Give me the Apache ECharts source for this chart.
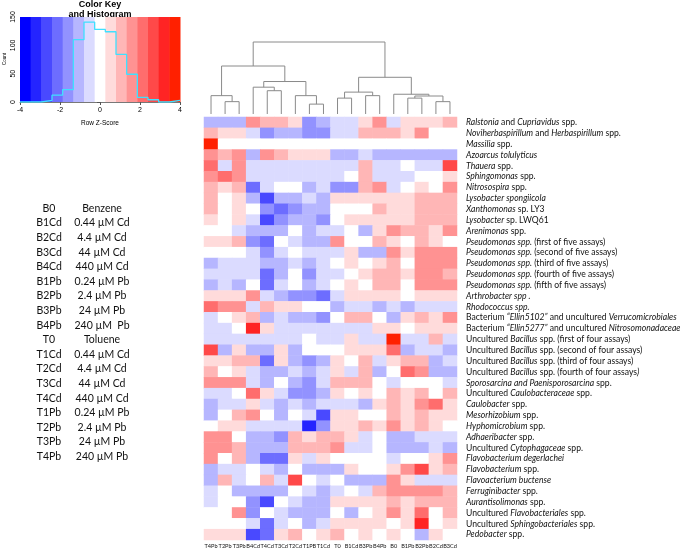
<!DOCTYPE html>
<html><head><meta charset="utf-8">
<script src="https://cdn.jsdelivr.net/npm/echarts@6/dist/echarts.min.js"></script>
<style>html,body{margin:0;padding:0;background:#fff}#c{width:685px;height:554px}</style>
</head><body><div id="c"></div>
<script>
// ---- data ----
const columns = ['T4Pb','T2Pb','T3Pb','B4Cd','T4Cd','T3Cd','T2Cd','T1PB','T1Cd','T0','B1Cd','B3Pb','B4Pb','B0','B1Pb','B2Pb','B2Cd','B3Cd'];
const rowLabels = [
 '*Ralstonia* and *Cupriavidus* spp.',
 '*Noviherbaspirillum* and *Herbaspirillum* spp.',
 '*Massilia* spp.',
 '*Azoarcus tolulyticus*',
 '*Thauera* spp.',
 '*Sphingomonas* spp.',
 '*Nitrosospira* spp.',
 '*Lysobacter spongiicola*',
 '*Xanthomonas* sp. LY3',
 '*Lysobacter* sp. LWQ61',
 '*Arenimonas* spp.',
 '*Pseudomonas spp.* (first of five assays)',
 '*Pseudomonas spp.* (second of five assays)',
 '*Pseudomonas spp.* (third of five assays)',
 '*Pseudomonas spp.* (fourth of five assays)',
 '*Pseudomonas spp.* (fifth of five assays)',
 '*Arthrobacter spp .*',
 '*Rhodococcus spp.*',
 'Bacterium *\u201cEllin5102\u201d* and uncultured *Verrucomicrobiales*',
 'Bacterium *\u201cEllin5277\u201d* and uncultured *Nitrosomonadaceae*',
 'Uncultured *Bacillus* spp. (first of four assays)',
 'Uncultured *Bacillus* spp. (second of four assays)',
 'Uncultured *Bacillus* spp. (third of four assays)',
 'Uncultured *Bacillus* spp. (fourth of four assays*)*',
 '*Sporosarcina and Paenisporosarcina* spp.',
 'Uncultured *Caulobacteraceae* spp.',
 '*Caulobacter* spp.',
 '*Mesorhizobium* spp.',
 '*Hyphomicrobium* spp.',
 '*Adhaeribacter* spp.',
 'Uncultured *Cytophagaceae* spp.',
 '*Flavobacterium degerlachei*',
 '*Flavobacterium* spp.',
 '*Flavoacterium buctense*',
 '*Ferruginibacter* spp.',
 '*Aurantisolimonas* spp.',
 'Uncultured *Flavobacteriales* spp.',
 'Uncultured *Sphingobacteriales* spp.',
 '*Pedobacter* spp.'
];
// row z-scores (one array per row, columns in the order above)
const zRows = [
 [-1,-1,-1,1.6,1,1,0.5,-1.6,-1,-0.5,-0.5,0.5,1.6,-0.5,0.5,0.5,0.5,1],
 [1,0.5,0.5,-0.5,-1.6,-1,-1,-1.6,-1.6,-0.5,-0.5,1,1,1,0.5,1.6,0,0],
 [3.8,-0.2,-0.2,-0.2,-0.2,-0.2,-0.2,-0.2,-0.2,-0.2,-0.2,-0.2,-0.2,-0.2,-0.2,-0.2,-0.2,-0.2],
 [1.6,1,1.6,-1,1.6,1,0.5,0.5,0.5,-1,-1,-0.5,-1,-1,-1,-1,-1,-1],
 [2.1,-0.5,1.6,-0.5,-0.5,-0.5,-0.5,-0.5,-0.5,-0.5,-0.5,1,-0.5,-0.5,0,-0.5,-0.5,2.7],
 [1.6,2.1,1.6,-0.5,-0.5,-0.5,-0.5,-0.5,-0.5,-0.5,0,1,-0.5,-0.5,-0.5,0,0,0.5],
 [1,0.5,1,-2.1,-0.5,0,0,-1,-0.5,-1.6,-1.6,1,1.6,-0.5,0,0.5,0,1.6],
 [1,0,0.5,-1,-2.7,-1,-1,-0.5,-1,0.5,0.5,0.5,0.5,0.5,0.5,1,1,1],
 [1,0,0.5,0,-1.6,-2.1,-1.6,-1,-1,0,0,0,1,0.5,0.5,1,1,1],
 [0.5,0,0.5,-0.5,-2.5,-1.6,-1,-1,-1.6,0,0.5,0.5,0.5,0.5,0.5,1,1,1],
 [0,0,-0.5,-1,-1,-1,0,-1,-0.5,-0.5,0,-1,0.5,1.6,1,1,0.5,1.6],
 [0.5,0.5,1,-1.6,-2.1,0,-0.5,-1,-1,1.6,0,0,1,0.5,0,1,0.5,0],
 [0,0,0,-0.5,-1.6,-0.5,0,-0.5,-0.5,-0.5,0.5,-1,-1,1.6,0.5,1.6,1.6,1.6],
 [-1,-0.5,-0.5,-0.5,-1,-1,-0.5,-1,-0.5,0,0.5,0,0.5,1,0,1.6,1.6,1.6],
 [-0.5,-0.5,-0.5,-0.5,-2.1,-1,0,-1.6,-0.5,-0.5,0,0.5,1,1,0.5,1.6,1.6,1],
 [-1,-0.5,-1,0,-2.1,-0.5,0,-1,-0.5,0,0.5,0,1,1,0,1.6,1.6,1.6],
 [0.5,0.5,0.5,1.6,-0.5,-1,-1.6,-1.6,-2.1,-0.5,0.5,0.5,0.5,0.5,0,0.5,0.5,0.5],
 [2.1,1.6,1.6,-0.5,1,0.5,0.5,0,0,-1,-0.5,-0.5,-1,-0.5,-1,-0.5,-0.5,-0.5],
 [-0.5,0,0.5,1,-1,-0.5,-1,-1,-1.6,0,1,1,0,-1,0.5,1,0.5,1.6],
 [-0.5,-0.5,0,3.2,0.5,-0.5,-0.5,-0.5,-0.5,-0.5,-0.5,-0.5,0.5,0.5,0,0.5,0.5,0.5],
 [-0.5,-0.5,-0.5,-0.5,-0.5,-0.5,-0.5,0,-0.5,-0.5,0.5,-0.5,-0.5,3.8,-0.5,-0.5,1,-0.5],
 [2.7,-1,0.5,-1,-1,0.5,-1,0,0,0,0.5,0.5,0.5,2.1,-1,-0.5,-0.5,-1],
 [0.5,0.5,1,1,-2.1,0.5,-1,-1.6,-1,0.5,0,1,-0.5,0.5,1,1,-1,-0.5],
 [1,0,0.5,-0.5,-1,-1,-0.5,-1,-0.5,0.5,-0.5,1,-1,0,2.1,1.6,-1,-1],
 [1.6,1.6,1.6,-0.5,-1,0,-1,-1.6,-0.5,1,1,1,0,-0.5,0,0,0,-0.5],
 [-0.5,-0.5,0,2.1,0.5,-0.5,-1.6,-1.6,-1,0.5,0,0.5,0,1,0.5,1,0,1],
 [-1,-0.5,-0.5,0.5,-0.5,-1,-0.5,-1,-0.5,-0.5,-0.5,-1,0.5,1,0.5,1.6,2.1,0.5],
 [-1,0,1,1.6,0,-1,0,-0.5,-2.7,0.5,0.5,0,0,1,0.5,1,0.5,0.5],
 [0,0.5,0.5,-0.5,-0.5,-0.5,-0.5,-3.2,-1.6,0.5,0.5,1,0.5,1.6,0.5,1,0.5,0],
 [1.6,1.6,0,-1,-1,-1.6,1,0.5,1,1,0.5,-0.5,0,-1,-1,-0.5,-0.5,-0.5],
 [1.6,1.6,1,-1,-1,-1,1,1,1,1.6,-0.5,-0.5,0,-1,-1,-1,-0.5,-1],
 [1.6,0,1,-1,-2.1,-2.1,0.5,-0.5,0.5,0,0,0,0,-0.5,0,0,0.5,1.6],
 [-1,-0.5,-0.5,0,-0.5,-1,0,-1,-1,-1,0.5,0,0,0.5,1.6,2.7,0.5,1],
 [-1,1,-0.5,0,1,-0.5,2.7,0,-0.5,0,-1,-1,-1,1.6,0.5,-0.5,-0.5,-0.5],
 [-0.5,0,-1,-1,-1,-1,0,-0.5,-1,-0.5,0,-0.5,1,1.6,1.6,1.6,1.6,1],
 [-0.5,0,0,-1.6,-2.7,0,-0.5,-1,-1,0.5,0.5,0.5,0.5,1,0.5,1,1,1],
 [0,0,1.6,-1.6,0,-0.5,-1,-1,-1,0,-1,0,0.5,1.6,0.5,2.1,0,1],
 [0,0,0,-0.5,-2.1,-0.5,0,-1,-0.5,0.5,0.5,0.5,0.5,0,0.5,3.2,0,0.5],
 [0.5,0.5,0.5,-2.7,-2.1,0.5,1,0,0.5,1,0,0.5,0,0.5,0,-1,0.5,0]
];
// column dendrogram: R-style merges (negative = leaf column number, positive = earlier merge)
const dendroMerge = [
 [-8,-9],[-2,-3],[-17,-18],[-10,-11],[-15,-16],[-1,2],[-7,1],[-12,-13],[5,3],[-14,9],
 [-5,-6],[-4,11],[4,8],[12,7],[13,10],[6,14],[16,15]
];
const dendroHeight = [1.4,1.75,1.75,2.25,2.25,2.6,2.6,2.6,2.55,2.8,3.3,3.8,3.1,4.6,5.2,6.8,10.2];
// colour key
const keyTicks = [-4,-2,0,2,4];
const histCounts = [0,0,3,12,22,110,141,128,124,84,49,8,4,0,3];
const countTicks = [0,50,100,150];
// side legend
const legendCodes = ['B0','B1Cd','B2Cd','B3Cd','B4Cd','B1Pb','B2Pb','B3Pb','B4Pb','T0','T1Cd','T2Cd','T3Cd','T4Cd','T1Pb','T2Pb','T3Pb','T4Pb'];
const legendDescs = ['Benzene','0.44 \u00b5M Cd','4.4 \u00b5M Cd','44 \u00b5M Cd','440 \u00b5M Cd','0.24 \u00b5M Pb','2.4 \u00b5M Pb','24 \u00b5M Pb','240 \u00b5M  Pb','Toluene','0.44 \u00b5M Cd','4.4 \u00b5M Cd','44 \u00b5M Cd','440 \u00b5M Cd','0.24 \u00b5M Pb','2.4 \u00b5M Pb','24 \u00b5M Pb','240 \u00b5M Pb'];

// ---- colours (blue-white-red, 15 steps over -4..4) ----
const NB = 15, ZMIN = -4, ZMAX = 4, BW = (ZMAX - ZMIN) / NB;
function hex(v){const s=Math.round(v).toString(16);return s.length<2?'0'+s:s;}
const palette = [];
for (let i = 0; i < NB; i++) {
  const t = i / (NB - 1);
  let r, g, b;
  if (t < 0.5) { const u = t / 0.5; r = 255*u; g = 255*u; b = 255; }
  else { const u = (t - 0.5) / 0.5; r = 255; g = 255*(1-u); b = 255*(1-u); }
  if (i === NB - 1) { r = 255; g = 32; b = 0; }
  palette.push('#' + hex(r) + hex(g) + hex(b));
}
const pieces = palette.map((c, i) => ({
  gte: i === 0 ? -100 : ZMIN + i*BW,
  lt: i === NB - 1 ? 100 : ZMIN + (i+1)*BW,
  color: c
}));

// heatmap data
const heatData = [];
zRows.forEach((row, r) => row.forEach((v, c) => heatData.push([c, r, v])));

// dendrogram segments
const nodeX = [], nodeH = [];
const dendroData = [];
function leafOrNode(k){ return k < 0 ? {x: -k - 1, h: 0} : {x: nodeX[k-1], h: nodeH[k-1]}; }
dendroMerge.forEach((m, i) => {
  const a = leafOrNode(m[0]), b = leafOrNode(m[1]);
  const L = a.x <= b.x ? a : b, R = a.x <= b.x ? b : a;
  nodeX.push((L.x + R.x) / 2); nodeH.push(dendroHeight[i]);
  dendroData.push([L.x, L.h, R.x, R.h, dendroHeight[i]]);
});

// colour key rects and histogram steps
const keyRects = palette.map((c, i) => [ZMIN + i*BW, ZMIN + (i+1)*BW, i]);
const histLine = histCounts.map((v, i) => [ZMIN + i*BW, v]);
histLine.push([ZMAX, histCounts[histCounts.length-1]]);

// rich label builder
function richLabel(s){
  const parts = s.split('*');
  return parts.map((p, i) => p === '' ? '' : (i % 2 ? '{i|' + p + '}' : '{n|' + p + '}')).join('');
}

const FONT = 'Lato, "Open Sans", sans-serif';
const ARIAL = '"Liberation Sans", Arial, sans-serif';
const RF = 8.6;
const graphics = [];
graphics.push({type:'text', x: 100, y: 0, style:{text:'Color Key', font:'bold 9px ' + ARIAL, fill:'#000', align:'center'}});
graphics.push({type:'text', x: 100, y: 10.5, style:{text:'and Histogram', font:'bold 9px ' + ARIAL, fill:'#000', align:'center'}});
graphics.push({type:'text', x: 100, y: 120, style:{text:'Row Z-Score', font:'6.5px ' + ARIAL, fill:'#000', align:'center'}});
graphics.push({type:'text', x: 2, y: 59, rotation: Math.PI/2, style:{text:'Count', font:'4.5px ' + ARIAL, fill:'#000', align:'center', verticalAlign:'top'}});
legendCodes.forEach((code, i) => {
  const y = 203 + i * 14.6;
  graphics.push({type:'text', x: 49, y: y, style:{text: code, font:'10.5px ' + FONT, fill:'#111', align:'center'}});
  graphics.push({type:'text', x: 102, y: y, style:{text: legendDescs[i], font:'10.5px ' + FONT, fill:'#111', align:'center'}});
});

const chart = echarts.init(document.getElementById('c'), null, {renderer: 'canvas'});
chart.setOption({
  animation: false,
  backgroundColor: '#fff',
  grid: [
    {left: 204, top: 117, width: 253, height: 423, outerBoundsMode: 'none', containLabel: false},
    {left: 204, top: 42, width: 253, height: 72, outerBoundsMode: 'none', containLabel: false},
    {left: 20, top: 17, width: 160, height: 85, outerBoundsMode: 'none', containLabel: false}
  ],
  xAxis: [
    {type:'category', gridIndex:0, data: columns, position:'bottom',
     axisLine:{show:false}, axisTick:{show:false},
     axisLabel:{interval:0, fontSize:5.6, color:'#111', margin:3, fontFamily: FONT}},
    {type:'value', gridIndex:1, min:-0.5, max:17.5, show:false},
    {type:'value', gridIndex:2, min:-4, max:4, interval:2,
     axisLine:{show:true, lineStyle:{color:'#555', width:0.8}}, axisTick:{show:true, length:3, lineStyle:{color:'#555'}},
     splitLine:{show:false},
     axisLabel:{fontSize:7, color:'#000', margin:5, fontFamily: ARIAL,
       formatter: v => keyTicks.indexOf(v) >= 0 ? String(v) : ''}}
  ],
  yAxis: [
    {type:'category', gridIndex:0, data: rowLabels, inverse:true, position:'right',
     axisLine:{show:false}, axisTick:{show:false},
     axisLabel:{interval:0, margin:9, color:'#111', fontSize:RF, fontFamily: FONT,
       formatter: v => richLabel(v),
       rich:{n:{fontSize:RF, fontFamily:FONT, color:'#111'}, i:{fontSize:RF, fontFamily:FONT, fontStyle:'italic', color:'#111'}}}},
    {type:'value', gridIndex:1, min:0, max:10.2, show:false},
    {type:'value', gridIndex:2, min:0, max:150, interval:50,
     axisLine:{show:true, lineStyle:{color:'#555', width:0.8}}, axisTick:{show:true, length:3, lineStyle:{color:'#555'}},
     splitLine:{show:false},
     axisLabel:{fontSize:7, color:'#000', margin:3, rotate:90, fontFamily: ARIAL,
       formatter: v => countTicks.indexOf(v) >= 0 ? String(v) : ''}}
  ],
  visualMap: {type:'piecewise', pieces: pieces, show:false, seriesIndex: 0, dimension: 2},
  series: [
    {type:'heatmap', xAxisIndex:0, yAxisIndex:0, data: heatData, itemStyle:{borderWidth:0}, emphasis:{disabled:true}},
    {type:'custom', xAxisIndex:1, yAxisIndex:1, data: dendroData, silent:true,
     renderItem: (params, api) => {
       const p1 = api.coord([api.value(0), api.value(1)]);
       const p2 = api.coord([api.value(0), api.value(4)]);
       const p3 = api.coord([api.value(2), api.value(4)]);
       const p4 = api.coord([api.value(2), api.value(3)]);
       return {type:'polyline', shape:{points:[p1,p2,p3,p4]}, style:{stroke:'#8a8a8a', lineWidth:1, fill:null}};
     }},
    {type:'custom', xAxisIndex:2, yAxisIndex:2, data: keyRects, silent:true,
     renderItem: (params, api) => {
       const a = api.coord([api.value(0), 150]);
       const b = api.coord([api.value(1), 0]);
       return {type:'rect', shape:{x:a[0], y:a[1], width:b[0]-a[0]+0.5, height:b[1]-a[1]}, style:{fill: palette[api.value(2)]}};
     }},
    {type:'line', xAxisIndex:2, yAxisIndex:2, data: histLine, step:'end', symbol:'none', silent:true,
     lineStyle:{color:'#3fe0ff', width:1.3}, z: 5}
  ],
  graphic: graphics
});
</script>
</body></html>
